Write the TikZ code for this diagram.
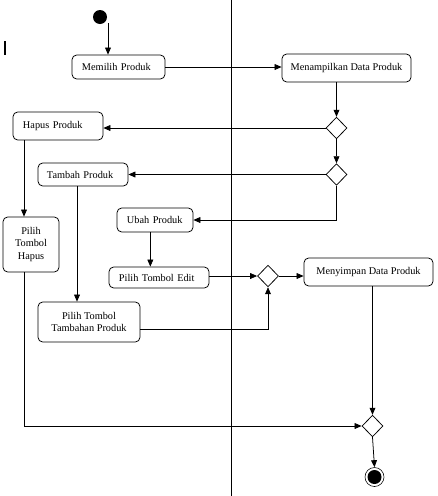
\documentclass[tikz,border=0pt]{standalone}
\usepackage{fontspec}
\setmainfont{Liberation Serif}
\usetikzlibrary{shapes.geometric,arrows.meta}

\begin{document}
\begin{tikzpicture}[x=0.03cm, y=-0.03cm, line width=0.65pt,
    font=\fontsize{8.8}{10.5}\selectfont,
    aksi/.style={draw, rounded corners=4pt, inner xsep=0pt, inner ysep=0pt},
    keputusan/.style={draw, diamond, inner sep=0pt, minimum width=0.63cm, minimum height=0.65cm},
    panah/.style={-{Triangle[length=6pt,width=5pt]}}]
            \useasboundingbox (0,0) rectangle (437,496);

            % garis pemisah swimlane
            \draw (231,0) -- (231,496);
            \draw[line width=2pt] (5,41) -- (5,55);

            % mulai dan selesai
            \fill (100,17) circle (7);
            \coordinate (s1) at (108,23);
            \node[circle, draw, line width=0.5pt, inner sep=0pt, minimum size=0.57cm] (selesai) at (374.5,477) {};
            \fill (selesai) circle (7);

            % aksi
            \node[aksi, minimum height=0.72cm, text width=2.19cm, align=left, inner xsep=0.3cm] (memilih) at (118.5,67) {Memilih Produk};
            \node[aksi, minimum width=3.87cm, minimum height=0.84cm] (menampilkan) at (346.5,68) {Menampilkan Data Produk};
            \node[aksi, minimum height=0.84cm, text width=2.1cm, align=left, inner xsep=0.3cm] (hapus) at (58,126) {Hapus Produk};
            \node[aksi, minimum height=0.69cm, text width=2.16cm, align=left, inner xsep=0.27cm] (tambah) at (83,174.5) {Tambah Produk};
            \node[aksi, minimum height=0.72cm, text width=1.68cm, align=left, inner xsep=0.3cm] (ubah) at (155,220) {Ubah Produk};
            \node[aksi, minimum height=0.63cm, text width=2.4cm, align=left, inner xsep=0.3cm] (edit) at (159,277.5) {Pilih Tombol Edit};
            \node[aksi, minimum width=3.87cm, minimum height=0.84cm] (menyimpan) at (368.5,272) {Menyimpan Data Produk};
            \node[aksi, minimum width=3.06cm, minimum height=1.2cm, align=center] (tambahan) at (89,322) {Pilih Tombol\\Tambahan Produk};
            \node[aksi, minimum width=1.68cm, minimum height=1.65cm, align=center] (pilihhapus) at (31,244.5) {Pilih\\Tombol\\Hapus};

            % keputusan
            \node[keputusan] (k1) at (336.5,128) {};
            \node[keputusan] (k2) at (336.5,174.5) {};
            \node[keputusan] (k3) at (268,276) {};
            \node[keputusan] (k4) at (372.5,426) {};

            % alur
            \draw[panah] (s1) -- (s1 |- memilih.north);
            \draw[panah] (memilih.east) -- (memilih.east -| menampilkan.west);
            \draw[panah] (k1.north |- menampilkan.south) -- (k1.north);
            \draw[panah] (k1.west) -- (k1.west -| hapus.east);
            \draw[panah] (k1.south) -- (k2.north);
            \draw[panah] (k2.west) -- (k2.west -| tambah.east);
            \draw[panah] (k2.south) |- (ubah.east);
            \draw[panah] ([xshift=-0.14cm]ubah.south) -- ([xshift=-0.14cm]ubah.south |- edit.north);
            \draw[panah] (k3.west -| edit.east) -- (k3.west);
            \draw[panah] (k3.east) -- (k3.east -| menyimpan.west);
            \draw[panah] (tambahan.-8) -| (k3.south);
            \draw[panah] ([xshift=-0.18cm]tambah.south) -- ([xshift=-0.18cm]tambah.south |- tambahan.north);
            \draw[panah] ([xshift=-0.21cm]pilihhapus.north |- hapus.south) -- ([xshift=-0.21cm]pilihhapus.north);
            \draw[panah] ([xshift=-0.21cm]pilihhapus.south) |- (k4.west);
            \draw[panah] (k4.north |- menyimpan.south) -- (k4.north);
            \draw[panah] (k4.south) -- (selesai.north);
        \end{tikzpicture}
\end{document}
